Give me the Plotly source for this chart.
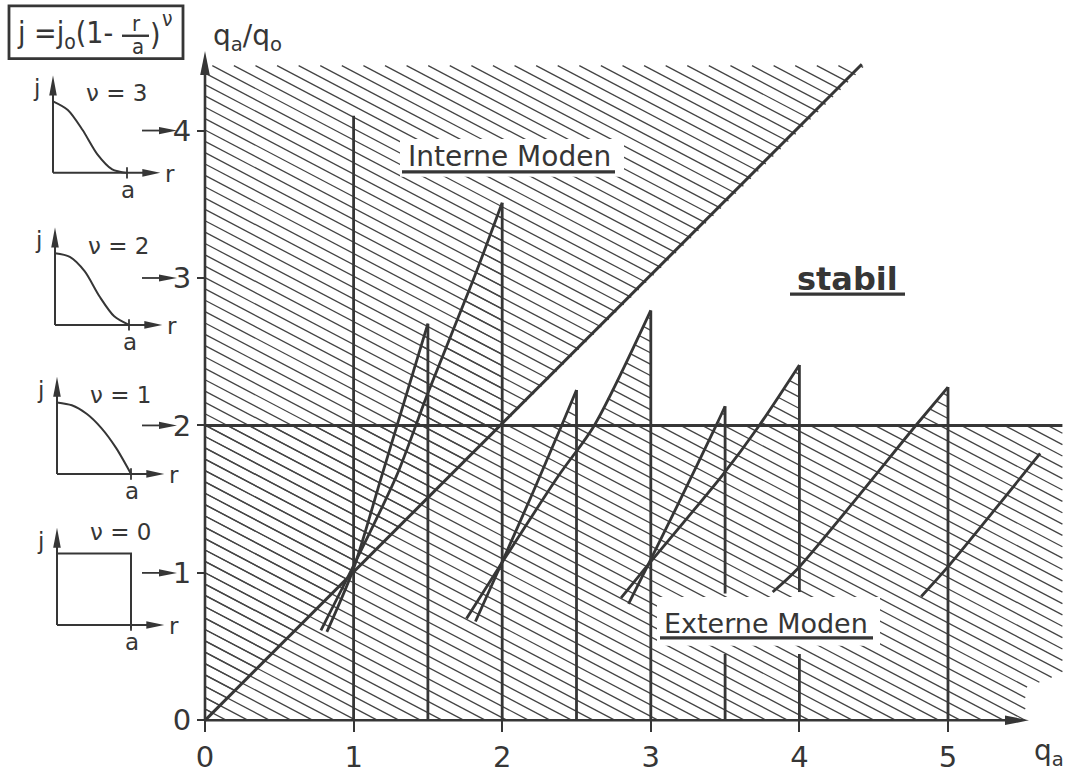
import math
import plotly.graph_objects as go

# ---------------- data ----------------
qa_ticks = [0, 1, 2, 3, 4, 5]
ratio_ticks = [0, 1, 2, 3, 4]

# vertical stability limits at rational q_a and the q_a/q_0 they reach
limit_qa = [1.0, 1.5, 2.0, 2.5, 3.0, 3.5, 4.0, 5.0]
limit_top = [4.10, 2.69, 3.51, 2.24, 2.78, 2.13, 2.41, 2.26]
# limits interrupted behind the "Externe Moden" label
limit_gap_qa = [3.5, 4.0]
limit_gap_from = [0.45, 0.45]
limit_gap_to = [0.86, 0.87]

# mode boundaries: q_a/q_0 versus q_a
b15_qa = [0.82, 1.00, 1.19, 1.50]
b15_ratio = [0.60, 1.03, 1.66, 2.69]
b20_qa = [0.78, 1.00, 1.29, 1.50, 1.81, 2.00]
b20_ratio = [0.61, 1.05, 1.66, 2.22, 3.00, 3.51]
b25_qa = [1.82, 1.98, 2.20, 2.40, 2.50]
b25_ratio = [0.67, 1.03, 1.53, 2.00, 2.24]
b30_qa = [1.76, 1.98, 2.38, 2.62, 3.00]
b30_ratio = [0.69, 1.04, 1.66, 2.00, 2.78]
b35_qa = [2.85, 2.97, 3.20, 3.44, 3.50]
b35_ratio = [0.79, 1.03, 1.50, 2.00, 2.13]
b40_qa = [2.80, 2.97, 3.48, 3.73, 4.00]
b40_ratio = [0.83, 1.04, 1.66, 2.00, 2.41]
b50_qa = [3.82, 3.99, 4.80, 5.00]
b50_ratio = [0.87, 1.03, 2.02, 2.26]
b55_qa = [4.82, 4.99, 5.62]
b55_ratio = [0.84, 1.03, 1.81]

# internal-mode limit (q_a/q_0 = q_a) and external-mode limit (q_a/q_0 = 2)
internal_qa = [0.0, 4.42]
internal_ratio = [0.0, 4.45]
external_qa = [0.0, 5.77]
external_ratio = [2.0, 2.0]

# extent of the shaded unstable regions
unstable_top = 4.44
unstable_right = 5.77

# current profiles j/j0 over r/a for the inset sketches
nu_values = [3, 2, 1, 0]
r_over_a = [0.0, 0.2, 0.4, 0.6, 0.8, 1.0]
j_nu3 = [1.0, 0.88, 0.60, 0.26, 0.05, 0.0]
j_nu2 = [1.0, 0.95, 0.75, 0.40, 0.12, 0.0]
j_nu1 = [1.0, 0.96, 0.84, 0.64, 0.36, 0.0]
j_nu0 = [1.0, 1.0, 1.0, 1.0, 1.0, 1.0]
profiles = [j_nu3, j_nu2, j_nu1, j_nu0]

# ---------------- geometry / style ----------------
W, H = 1070, 774
X0, Y0 = 205.0, 725.0          # pixel position of the origin
SX, SY = 148.6, 148.4          # pixels per unit on each axis
LC = "#363636"
HC = "#444444"
FONT = "DejaVu Sans"
FONT_NARROW = "DejaVu Sans Condensed, DejaVu Sans"

def px_x(px):
    return (px - X0) / SX

def px_y(py):
    return (Y0 - py) / SY

def paper_x(px):
    return px / W

def paper_y(py):
    return 1 - py / H

fig = go.Figure()


def add_line(xs, ys, width=2.8, color=LC, xa="x", ya="y", shape="linear"):
    fig.add_trace(go.Scatter(
        x=xs, y=ys, mode="lines",
        line=dict(color=color, width=width, shape=shape, smoothing=0.8),
        xaxis=xa, yaxis=ya, hoverinfo="skip", showlegend=False))


# ---------------- hatching ----------------
HATCH_SLOPE = -0.53
HATCH_STEP = 0.077


def hatch_segments(poly):
    xs, ys = [], []
    cs = [p[1] - HATCH_SLOPE * p[0] for p in poly]
    k0 = math.ceil(min(cs) / HATCH_STEP)
    k1 = math.floor(max(cs) / HATCH_STEP)
    n = len(poly)
    for k in range(k0, k1 + 1):
        c = k * HATCH_STEP
        hits = []
        for i in range(n):
            (x1, y1), (x2, y2) = poly[i], poly[(i + 1) % n]
            f1 = y1 - HATCH_SLOPE * x1 - c
            f2 = y2 - HATCH_SLOPE * x2 - c
            if (f1 > 0) != (f2 > 0):
                t = f1 / (f1 - f2)
                hits.append(x1 + t * (x2 - x1))
        hits.sort()
        for a, b in zip(hits[0::2], hits[1::2]):
            xs += [a, b, None]
            ys += [HATCH_SLOPE * a + c, HATCH_SLOPE * b + c, None]
    return xs, ys


boundaries = [(b15_qa, b15_ratio), (b20_qa, b20_ratio), (b25_qa, b25_ratio),
              (b30_qa, b30_ratio), (b35_qa, b35_ratio), (b40_qa, b40_ratio),
              (b50_qa, b50_ratio)]

level = external_ratio[0]
regions = [
    [(0, 0), (0, unstable_top), (unstable_top, unstable_top)],
    [(0, 0), (5.52, 0), (5.52, 0.22), (unstable_right, 0.32),
     (unstable_right, level), (0, level)],
]
# unstable wedges above the external limit between boundary and vertical limit
for qa, rr in boundaries:
    for i in range(len(qa) - 1):
        if rr[i] <= level < rr[i + 1]:
            t = (level - rr[i]) / (rr[i + 1] - rr[i])
            xc = qa[i] + t * (qa[i + 1] - qa[i])
            poly = [(xc, level)] + list(zip(qa[i + 1:], rr[i + 1:])) + [(qa[-1], level)]
            regions.append(poly)
            break

hx, hy = [], []
for poly in regions:
    a, b = hatch_segments(poly)
    hx += a
    hy += b
add_line(hx, hy, width=1.3, color=HC)

# ---------------- main lines ----------------
add_line(internal_qa, internal_ratio, width=3.0)
add_line(external_qa, external_ratio, width=3.0)

for q, top in zip(limit_qa, limit_top):
    if q in limit_gap_qa:
        g = limit_gap_qa.index(q)
        add_line([q, q, None, q, q], [0, limit_gap_from[g], None, limit_gap_to[g], top])
    else:
        add_line([q, q], [0, top])

for qa, rr in boundaries + [(b55_qa, b55_ratio)]:
    add_line(qa, rr, width=2.8, shape="spline")

# axis lines
add_line([0, 5.46], [0, 0], width=2.6)
add_line([0, 0], [0, 4.46], width=2.6)

shapes = []


def arrow_head(xref, yref, x, y, direction, length, half):
    if direction == "right":
        path = f"M0,0 L{-length},{half} L{-length},{-half} Z"
    else:
        path = f"M0,0 L{-half},{-length} L{half},{-length} Z"
    shapes.append(dict(type="path", xref=xref, yref=yref,
                       xsizemode="pixel", ysizemode="pixel",
                       xanchor=x, yanchor=y, path=path,
                       fillcolor=LC, line=dict(width=0), layer="above"))


arrow_head("x", "y", 5.545, 0, "right", 24, 4.8)
arrow_head("x", "y", 0, 4.54, "up", 24, 4.8)

# arrows from the profile sketches to q_a/q_0 = nu + 1
for nu in nu_values:
    yv = nu + 1
    add_line([px_x(142), px_x(162)], [yv, yv], width=1.8)
    arrow_head("x", "y", px_x(177), yv, "right", 18, 3.6)

# white backing behind the region labels
shapes.append(dict(type="rect", xref="x", yref="y", x0=px_x(400), x1=px_x(624),
                   y0=px_y(178), y1=px_y(140), fillcolor="white",
                   line=dict(width=0), layer="above"))
shapes.append(dict(type="rect", xref="x", yref="y", x0=px_x(657), x1=px_x(880),
                   y0=px_y(650), y1=px_y(601), fillcolor="white",
                   line=dict(width=0), layer="above"))

# underlines
for (xa_, xb_, yy) in [(402, 615, 173), (660, 873, 642), (790, 905, 296)]:
    shapes.append(dict(type="line", xref="x", yref="y", x0=px_x(xa_), x1=px_x(xb_),
                       y0=px_y(yy), y1=px_y(yy), line=dict(color=LC, width=3.2),
                       layer="above"))

annotations = []


def text(x, y, s, size, xref="x", yref="y", xanchor="center", yanchor="middle",
         bold=False, family=FONT):
    annotations.append(dict(x=x, y=y, xref=xref, yref=yref, text=s, showarrow=False,
                            xanchor=xanchor, yanchor=yanchor,
                            font=dict(family=family, size=size, color=LC,
                                      weight="bold" if bold else "normal")))


text(px_x(509), px_y(158), "Interne Moden", 28)
text(px_x(766), px_y(628), "Externe Moden", 27)
text(px_x(847), px_y(281), "stabil", 32, bold=True)
text(paper_x(247), paper_y(38), "q<sub>a</sub>/q<sub>o</sub>", 28, "paper", "paper")
text(paper_x(1049), paper_y(757), "q<sub>a</sub>", 28, "paper", "paper")

# ---------------- formula box ----------------
shapes.append(dict(type="rect", xref="paper", yref="paper",
                   x0=paper_x(9), x1=paper_x(183), y0=paper_y(59), y1=paper_y(6),
                   line=dict(color=LC, width=2.8), fillcolor="rgba(0,0,0,0)"))
text(paper_x(15), paper_y(35), "j =j<sub>o</sub>(1-", 30, "paper", "paper",
     xanchor="left", family=FONT_NARROW)
text(paper_x(136), paper_y(24), "r", 22, "paper", "paper", family=FONT_NARROW)
shapes.append(dict(type="line", xref="paper", yref="paper", x0=paper_x(122), x1=paper_x(149),
                   y0=paper_y(36), y1=paper_y(36), line=dict(color=LC, width=2.4)))
text(paper_x(138), paper_y(47), "a", 22, "paper", "paper", family=FONT_NARROW)
text(paper_x(155), paper_y(35), ")", 30, "paper", "paper", family=FONT_NARROW)
text(paper_x(167), paper_y(19), "ν", 21, "paper", "paper", family=FONT_NARROW)

# ---------------- profile insets ----------------
inset_foot_px = [(53, 174), (55, 327), (57, 477), (57, 629)]
nu_label_j = [1.12, 1.10, 1.10, 1.30]
RPX, JPX = 74.0, 72.0
R_RANGE = [-0.4, 1.75]
J_RANGE = [-0.4, 1.5]
R_TIP, J_TIP = 1.45, 1.36

layout_axes = {}
for k, nu in enumerate(nu_values):
    bx, by = inset_foot_px[k]
    n = k + 2
    xa, ya = f"x{n}", f"y{n}"
    layout_axes[f"xaxis{n}"] = dict(domain=[paper_x(bx + R_RANGE[0] * RPX), paper_x(bx + R_RANGE[1] * RPX)],
                                    range=R_RANGE, visible=False, anchor=ya, fixedrange=True)
    layout_axes[f"yaxis{n}"] = dict(domain=[paper_y(by - J_RANGE[0] * JPX), paper_y(by - J_RANGE[1] * JPX)],
                                    range=J_RANGE, visible=False, anchor=xa, fixedrange=True)
    # axes of the sketch
    add_line([0, R_TIP - 0.15], [0, 0], width=2.0, xa=xa, ya=ya)
    add_line([0, 0], [0, J_TIP - 0.15], width=2.0, xa=xa, ya=ya)
    arrow_head(xa, ya, R_TIP, 0, "right", 18, 3.8)
    arrow_head(xa, ya, 0, J_TIP, "up", 20, 3.8)
    # tick at r = a
    add_line([1.0, 1.0], [-0.08, 0.08], width=1.8, xa=xa, ya=ya)
    prof = profiles[k]
    if prof[-1] > 0:
        add_line(r_over_a + [r_over_a[-1]], prof + [-0.05], width=2.0, xa=xa, ya=ya)
    else:
        add_line(r_over_a, prof, width=2.0, xa=xa, ya=ya, shape="spline")
    text(-0.22, 1.18, "j", 23, xa, ya)
    text(1.58, -0.02, "r", 23, xa, ya)
    text(1.02, -0.24, "a", 23, xa, ya)
    text(0.86, nu_label_j[k], f"ν = {nu}", 23, xa, ya)

fig.update_layout(
    width=W, height=H,
    margin=dict(l=0, r=0, t=0, b=0),
    paper_bgcolor="white", plot_bgcolor="rgba(0,0,0,0)",
    showlegend=False,
    xaxis=dict(range=[-X0 / SX, (W - X0) / SX], anchor="free", position=paper_y(Y0),
               domain=[0, 1], showgrid=False, zeroline=False, showline=False,
               ticks="outside", ticklen=11, tickwidth=2.2, tickcolor=LC,
               tickvals=qa_ticks, ticktext=[str(v) for v in qa_ticks],
               tickfont=dict(family=FONT, size=29, color=LC), fixedrange=True),
    yaxis=dict(range=[(Y0 - H) / SY, Y0 / SY], anchor="free", position=paper_x(X0),
               domain=[0, 1], showgrid=False, zeroline=False, showline=False,
               ticks="outside", ticklen=8, tickwidth=2.2, tickcolor=LC,
               tickvals=ratio_ticks, ticktext=[str(v) for v in ratio_ticks],
               tickfont=dict(family=FONT, size=29, color=LC), fixedrange=True),
    shapes=shapes,
    annotations=annotations,
    **layout_axes,
)

fig.write_html("out.html")
